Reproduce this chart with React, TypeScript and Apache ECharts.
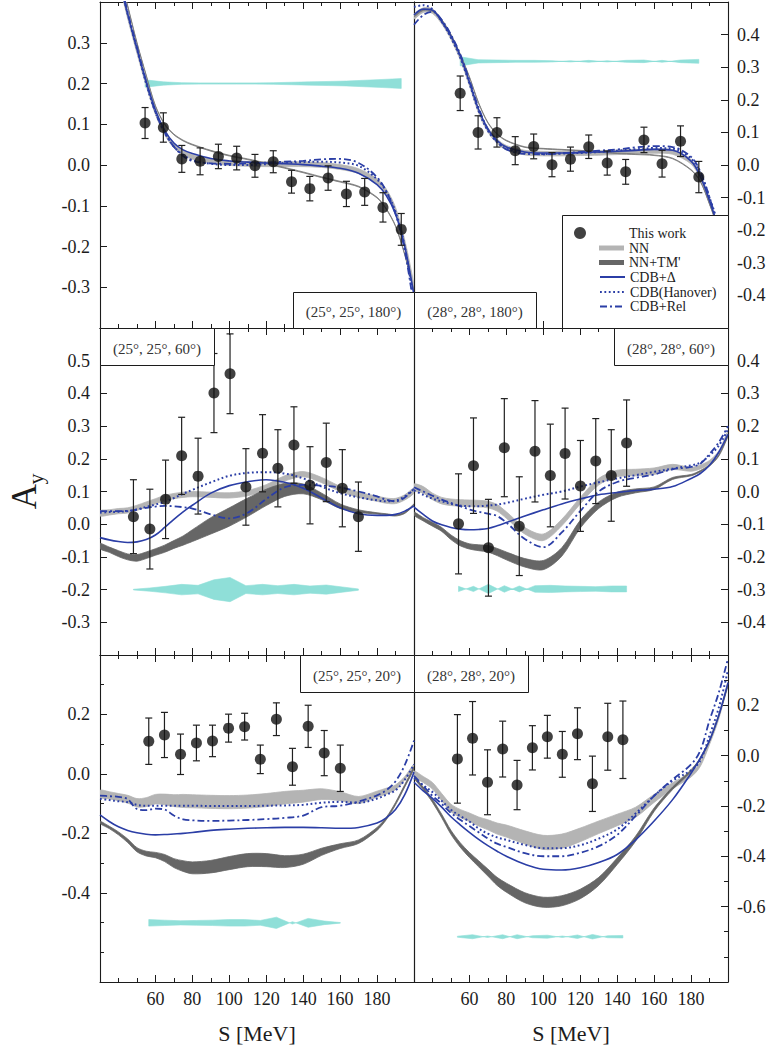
import React, { useEffect, useRef } from "react";
import * as echarts from "echarts";

// ---------------- shared grids ----------------
const S_GRID = [30, 35, 40, 45, 50, 55, 60, 65, 70, 75, 80, 90, 100, 110, 120, 130, 140, 150, 160, 170, 180, 185, 190, 195, 200];
const X_TICKS = [60, 80, 100, 120, 140, 160, 180];

// ---------------- panel 1: (25°, 25°, 180°) ----------------
const P1_S = [54.4, 64.3, 74.3, 84.2, 94.1, 104.0, 113.9, 123.8, 133.7, 143.6, 153.5, 163.4, 173.3, 183.2, 193.1];
const P1_AY = [0.103, 0.092, 0.015, 0.009, 0.021, 0.017, -0.002, 0.008, -0.041, -0.058, -0.032, -0.071, -0.066, -0.104, -0.158];
const P1_ERR = [0.038, 0.036, 0.033, 0.033, 0.030, 0.029, 0.028, 0.027, 0.028, 0.030, 0.030, 0.031, 0.033, 0.036, 0.039];
const P1_SYS_BASE = 0.2;
const P1_SYS_HW = [0.009, 0.004, 0.002, 0.0015, 0.0015, 0.0015, 0.0015, 0.002, 0.003, 0.004, 0.005, 0.006, 0.008, 0.010, 0.012];
const P1_NN = [0.68, 0.57, 0.46, 0.365, 0.28, 0.2, 0.13, 0.08, 0.048, 0.03, 0.02, 0.01, 0.005, 0.003, 0.002, 0.002, 0.002, 0.0, -0.005, -0.015, -0.04, -0.065, -0.11, -0.19, -0.3];
const P1_NN_HW = [0.006, 0.006, 0.006, 0.006, 0.006, 0.006, 0.006, 0.006, 0.006, 0.006, 0.006, 0.006, 0.006, 0.006, 0.006, 0.006, 0.006, 0.006, 0.006, 0.006, 0.006, 0.006, 0.006, 0.006, 0.006];
const P1_TM = [0.72, 0.6, 0.48, 0.39, 0.3, 0.22, 0.145, 0.1, 0.075, 0.06, 0.05, 0.035, 0.023, 0.014, 0.004, -0.007, -0.018, -0.03, -0.041, -0.053, -0.08, -0.108, -0.15, -0.22, -0.31];
const P1_TM_HW = [0.001, 0.001, 0.001, 0.001, 0.001, 0.001, 0.001, 0.001, 0.001, 0.001, 0.001, 0.001, 0.001, 0.001, 0.001, 0.001, 0.001, 0.001, 0.001, 0.001, 0.001, 0.001, 0.001, 0.001, 0.001];
const P1_CDB = [0.68, 0.57, 0.46, 0.37, 0.285, 0.205, 0.135, 0.085, 0.054, 0.037, 0.028, 0.016, 0.01, 0.007, 0.005, 0.003, 0.001, -0.003, -0.008, -0.02, -0.048, -0.075, -0.12, -0.2, -0.32];
const P1_HAN = [0.69, 0.58, 0.47, 0.37, 0.285, 0.2, 0.13, 0.08, 0.045, 0.025, 0.012, 0.003, 0.0, 0.0, 0.002, 0.005, 0.007, 0.008, 0.006, -0.002, -0.035, -0.065, -0.115, -0.2, -0.34];
const P1_REL = [0.69, 0.58, 0.47, 0.375, 0.29, 0.205, 0.13, 0.08, 0.045, 0.022, 0.01, 0.004, 0.003, 0.004, 0.006, 0.008, 0.01, 0.014, 0.015, 0.005, -0.03, -0.065, -0.12, -0.21, -0.35];

// ---------------- panel 2: (28°, 28°, 180°) ----------------
const P2_S = [55.0, 64.7, 74.9, 84.8, 94.8, 104.7, 114.7, 124.6, 134.6, 144.6, 154.5, 164.3, 174.3, 184.2];
const P2_AY = [0.220, 0.100, 0.100, 0.044, 0.057, 0.001, 0.018, 0.056, 0.006, -0.021, 0.077, 0.004, 0.073, -0.037];
const P2_ERR = [0.053, 0.051, 0.045, 0.043, 0.038, 0.037, 0.037, 0.036, 0.037, 0.038, 0.039, 0.041, 0.047, 0.048];
const P2_SYS_BASE = 0.318;
const P2_SYS_HW = [0.014, 0.005, 0.004, 0.003, 0.003, 0.002, -0.002, 0.003, -0.002, 0.003, 0.004, -0.003, 0.004, 0.006];
const P2_NN = [0.455, 0.475, 0.472, 0.44, 0.392, 0.33, 0.25, 0.165, 0.108, 0.073, 0.053, 0.038, 0.035, 0.035, 0.036, 0.037, 0.039, 0.041, 0.043, 0.04, 0.01, -0.035, -0.11, -0.21, -0.34];
const P2_NN_HW = [0.007, 0.007, 0.007, 0.007, 0.007, 0.007, 0.007, 0.007, 0.007, 0.007, 0.007, 0.007, 0.007, 0.007, 0.007, 0.007, 0.007, 0.007, 0.007, 0.007, 0.007, 0.007, 0.007, 0.007, 0.007];
const P2_TM = [0.455, 0.475, 0.472, 0.445, 0.4, 0.34, 0.27, 0.19, 0.13, 0.095, 0.075, 0.055, 0.05, 0.047, 0.044, 0.04, 0.036, 0.033, 0.03, 0.02, -0.015, -0.05, -0.12, -0.2, -0.33];
const P2_TM_HW = [0.001, 0.001, 0.001, 0.001, 0.001, 0.001, 0.001, 0.001, 0.001, 0.001, 0.001, 0.001, 0.001, 0.001, 0.001, 0.001, 0.001, 0.001, 0.001, 0.001, 0.001, 0.001, 0.001, 0.001, 0.001];
const P2_CDB = [0.46, 0.478, 0.475, 0.44, 0.395, 0.335, 0.255, 0.17, 0.11, 0.075, 0.055, 0.04, 0.037, 0.037, 0.038, 0.04, 0.042, 0.045, 0.048, 0.045, 0.012, -0.035, -0.11, -0.2, -0.33];
const P2_HAN = [0.485, 0.49, 0.478, 0.44, 0.39, 0.33, 0.25, 0.165, 0.105, 0.07, 0.05, 0.036, 0.034, 0.035, 0.037, 0.04, 0.044, 0.048, 0.052, 0.05, 0.02, -0.025, -0.1, -0.19, -0.33];
const P2_REL = [0.43, 0.46, 0.47, 0.445, 0.4, 0.34, 0.26, 0.175, 0.11, 0.072, 0.048, 0.034, 0.033, 0.036, 0.04, 0.044, 0.048, 0.054, 0.058, 0.055, 0.025, -0.02, -0.1, -0.2, -0.35];

// ---------------- panel 3: (25°, 25°, 60°) ----------------
const P3_S = [48.1, 57.0, 65.5, 74.2, 83.1, 91.7, 100.4, 109.0, 118.0, 126.3, 135.0, 143.7, 152.5, 161.2, 169.9];
const P3_AY = [0.023, -0.015, 0.076, 0.209, 0.147, 0.401, 0.460, 0.114, 0.217, 0.171, 0.242, 0.119, 0.189, 0.110, 0.023];
const P3_ERR = [0.113, 0.122, 0.120, 0.118, 0.116, 0.121, 0.122, 0.117, 0.118, 0.118, 0.117, 0.118, 0.120, 0.118, 0.106];
const P3_SYS_BASE = -0.2;
const P3_SYS_HW = [0.001, 0.005, 0.010, 0.016, 0.013, 0.030, 0.037, 0.012, 0.016, 0.012, 0.016, 0.011, 0.014, 0.008, 0.002];
const P3_NN = [0.033, 0.036, 0.04, 0.042, 0.05, 0.06, 0.07, 0.08, 0.086, 0.09, 0.092, 0.09, 0.088, 0.095, 0.113, 0.14, 0.153, 0.135, 0.108, 0.09, 0.078, 0.072, 0.071, 0.082, 0.103];
const P3_NN_HW = [0.008, 0.008, 0.008, 0.008, 0.008, 0.008, 0.008, 0.008, 0.008, 0.008, 0.008, 0.008, 0.008, 0.008, 0.008, 0.008, 0.008, 0.008, 0.008, 0.008, 0.008, 0.008, 0.008, 0.008, 0.008];
const P3_TM = [-0.067, -0.078, -0.09, -0.1, -0.103, -0.095, -0.085, -0.075, -0.062, -0.05, -0.035, -0.005, 0.022, 0.052, 0.082, 0.105, 0.108, 0.085, 0.055, 0.04, 0.033, 0.03, 0.027, 0.035, 0.06];
const P3_TM_HW = [0.008, 0.008, 0.009, 0.009, 0.01, 0.01, 0.01, 0.011, 0.012, 0.014, 0.018, 0.025, 0.028, 0.028, 0.025, 0.02, 0.015, 0.01, 0.007, 0.004, 0.002, 0.002, 0.002, 0.002, 0.002];
const P3_CDB = [-0.041, -0.048, -0.053, -0.056, -0.054, -0.047, -0.033, -0.01, 0.015, 0.038, 0.058, 0.095, 0.118, 0.13, 0.136, 0.128, 0.11, 0.08, 0.05, 0.032, 0.027, 0.027, 0.03, 0.04, 0.056];
const P3_HAN = [0.035, 0.037, 0.038, 0.04, 0.045, 0.053, 0.06, 0.068, 0.08, 0.093, 0.105, 0.128, 0.148, 0.157, 0.159, 0.155, 0.14, 0.115, 0.095, 0.082, 0.073, 0.07, 0.072, 0.085, 0.108];
const P3_REL = [0.04, 0.04, 0.04, 0.041, 0.045, 0.05, 0.054, 0.056, 0.055, 0.052, 0.048, 0.03, 0.018, 0.035, 0.077, 0.113, 0.12, 0.118, 0.112, 0.1, 0.085, 0.075, 0.07, 0.082, 0.108];

// ---------------- panel 4: (28°, 28°, 60°) ----------------
const P4_S = [54.1, 62.2, 70.3, 78.9, 87.0, 95.5, 103.8, 111.8, 120.1, 128.4, 136.8, 145.1];
const P4_AY = [-0.099, 0.079, -0.172, 0.134, -0.106, 0.123, 0.049, 0.116, 0.017, 0.093, 0.049, 0.148];
const P4_ERR = [0.153, 0.146, 0.148, 0.150, 0.151, 0.155, 0.157, 0.139, 0.139, 0.130, 0.140, 0.132];
const P4_SYS_BASE = -0.298;
const P4_SYS_HW = [0.008, -0.008, 0.014, -0.010, 0.009, -0.010, -0.011, -0.009, -0.008, -0.007, -0.009, -0.009];
const P4_NN = [0.013, 0.005, -0.015, -0.028, -0.033, -0.035, -0.036, -0.037, -0.04, -0.05, -0.072, -0.12, -0.14, -0.095, -0.028, 0.03, 0.055, 0.058, 0.062, 0.075, 0.068, 0.075, 0.09, 0.12, 0.182];
const P4_NN_HW = [0.01, 0.01, 0.01, 0.01, 0.01, 0.01, 0.01, 0.01, 0.01, 0.01, 0.01, 0.01, 0.01, 0.01, 0.01, 0.01, 0.01, 0.01, 0.01, 0.008, 0.006, 0.006, 0.005, 0.004, 0.004];
const P4_TM = [-0.068, -0.085, -0.1, -0.116, -0.14, -0.158, -0.168, -0.172, -0.175, -0.185, -0.197, -0.218, -0.225, -0.185, -0.1, -0.042, -0.01, 0.002, 0.01, 0.04, 0.05, 0.062, 0.08, 0.11, 0.17];
const P4_TM_HW = [0.005, 0.005, 0.006, 0.006, 0.007, 0.008, 0.008, 0.009, 0.01, 0.011, 0.012, 0.013, 0.014, 0.013, 0.012, 0.01, 0.008, 0.006, 0.004, 0.003, 0.002, 0.002, 0.002, 0.002, 0.002];
const P4_CDB = [-0.048, -0.07, -0.09, -0.102, -0.11, -0.115, -0.117, -0.116, -0.113, -0.105, -0.095, -0.075, -0.056, -0.038, -0.023, -0.01, -0.003, 0.003, 0.007, 0.015, 0.04, 0.055, 0.08, 0.12, 0.175];
const P4_HAN = [0.003, -0.01, -0.022, -0.03, -0.038, -0.043, -0.045, -0.045, -0.043, -0.04, -0.035, -0.022, -0.01, 0.0, 0.015, 0.028, 0.04, 0.05, 0.06, 0.07, 0.08, 0.088, 0.11, 0.14, 0.19];
const P4_REL = [0.013, 0.0, -0.013, -0.025, -0.035, -0.045, -0.055, -0.062, -0.068, -0.075, -0.095, -0.145, -0.17, -0.125, -0.06, 0.0, 0.029, 0.042, 0.052, 0.068, 0.075, 0.085, 0.115, 0.15, 0.2];

// ---------------- panel 5: (25°, 25°, 20°) ----------------
const P5_S = [56.4, 64.9, 73.6, 82.2, 90.9, 99.6, 108.3, 116.8, 125.5, 134.2, 142.7, 151.4, 160.1];
const P5_AY = [0.110, 0.131, 0.066, 0.104, 0.111, 0.154, 0.159, 0.049, 0.184, 0.024, 0.160, 0.070, 0.019];
const P5_ERR = [0.078, 0.076, 0.068, 0.060, 0.053, 0.047, 0.045, 0.048, 0.055, 0.062, 0.071, 0.076, 0.078];
const P5_SYS_BASE = -0.501;
const P5_SYS_HW = [0.011, 0.009, 0.007, 0.008, 0.009, 0.011, 0.011, 0.008, 0.019, -0.004, 0.015, 0.006, 0.001];
const P5_NN = [-0.067, -0.072, -0.078, -0.085, -0.097, -0.095, -0.085, -0.086, -0.09, -0.091, -0.092, -0.094, -0.095, -0.093, -0.088, -0.08, -0.075, -0.068, -0.075, -0.088, -0.068, -0.058, -0.045, -0.015, 0.03];
const P5_NN_HW = [0.012, 0.012, 0.012, 0.013, 0.014, 0.015, 0.016, 0.018, 0.02, 0.022, 0.022, 0.022, 0.022, 0.022, 0.022, 0.021, 0.02, 0.018, 0.015, 0.012, 0.01, 0.01, 0.008, 0.006, 0.004];
const P5_TM = [-0.163, -0.18, -0.2, -0.225, -0.255, -0.268, -0.273, -0.283, -0.3, -0.31, -0.316, -0.312, -0.3, -0.29, -0.29, -0.295, -0.287, -0.262, -0.243, -0.228, -0.185, -0.15, -0.1, -0.04, 0.02];
const P5_TM_HW = [0.004, 0.004, 0.005, 0.006, 0.007, 0.008, 0.009, 0.012, 0.015, 0.018, 0.02, 0.021, 0.022, 0.022, 0.022, 0.02, 0.017, 0.012, 0.008, 0.006, 0.005, 0.004, 0.004, 0.004, 0.004];
const P5_CDB = [-0.138, -0.16, -0.178, -0.19, -0.198, -0.203, -0.205, -0.204, -0.202, -0.2, -0.197, -0.19, -0.186, -0.183, -0.181, -0.18, -0.18, -0.181, -0.183, -0.18, -0.165, -0.148, -0.12, -0.07, 0.006];
const P5_HAN = [-0.084, -0.088, -0.092, -0.095, -0.104, -0.107, -0.107, -0.107, -0.107, -0.107, -0.107, -0.108, -0.108, -0.108, -0.107, -0.106, -0.104, -0.097, -0.094, -0.097, -0.083, -0.07, -0.055, -0.02, 0.032];
const P5_REL = [-0.073, -0.075, -0.077, -0.085, -0.118, -0.122, -0.117, -0.12, -0.14, -0.153, -0.156, -0.158, -0.157, -0.155, -0.152, -0.148, -0.14, -0.112, -0.107, -0.093, -0.072, -0.055, -0.025, 0.03, 0.112];

// ---------------- panel 6: (28°, 28°, 20°) ----------------
const P6_S = [53.5, 61.7, 69.8, 78.0, 85.8, 94.1, 102.2, 110.3, 118.5, 126.6, 134.9, 143.1];
const P6_AY = [-0.013, 0.069, -0.106, 0.026, -0.117, 0.031, 0.075, 0.005, 0.087, -0.112, 0.075, 0.063];
const P6_ERR = [0.176, 0.146, 0.129, 0.111, 0.098, 0.088, 0.085, 0.091, 0.103, 0.110, 0.133, 0.154];
const P6_SYS_BASE = -0.72;
const P6_SYS_HW = [0.002, 0.008, -0.003, 0.008, -0.008, 0.004, 0.006, -0.003, 0.007, -0.009, 0.004, 0.005];
const P6_NN = [-0.073, -0.095, -0.12, -0.165, -0.208, -0.23, -0.245, -0.262, -0.275, -0.29, -0.3, -0.325, -0.345, -0.34, -0.315, -0.285, -0.256, -0.225, -0.17, -0.12, -0.075, -0.035, 0.05, 0.15, 0.29];
const P6_NN_HW = [0.012, 0.012, 0.013, 0.014, 0.015, 0.016, 0.017, 0.018, 0.02, 0.022, 0.024, 0.026, 0.028, 0.028, 0.027, 0.025, 0.023, 0.02, 0.016, 0.012, 0.01, 0.008, 0.006, 0.005, 0.004];
const P6_TM = [-0.086, -0.13, -0.18, -0.24, -0.305, -0.355, -0.395, -0.43, -0.465, -0.5, -0.525, -0.565, -0.583, -0.577, -0.55, -0.5, -0.42, -0.33, -0.215, -0.13, -0.06, -0.013, 0.06, 0.16, 0.28];
const P6_TM_HW = [0.004, 0.005, 0.006, 0.007, 0.008, 0.009, 0.01, 0.012, 0.014, 0.016, 0.018, 0.02, 0.02, 0.02, 0.019, 0.016, 0.013, 0.01, 0.007, 0.005, 0.004, 0.004, 0.004, 0.004, 0.004];
const P6_CDB = [-0.106, -0.14, -0.17, -0.205, -0.243, -0.275, -0.305, -0.333, -0.358, -0.38, -0.4, -0.432, -0.452, -0.455, -0.446, -0.425, -0.393, -0.335, -0.26, -0.175, -0.07, -0.01, 0.06, 0.16, 0.29];
const P6_HAN = [-0.09, -0.118, -0.145, -0.18, -0.215, -0.24, -0.262, -0.29, -0.31, -0.325, -0.335, -0.355, -0.368, -0.368, -0.356, -0.33, -0.293, -0.23, -0.16, -0.1, -0.058, -0.02, 0.08, 0.19, 0.34];
const P6_REL = [-0.08, -0.12, -0.16, -0.192, -0.228, -0.255, -0.28, -0.305, -0.33, -0.35, -0.363, -0.388, -0.4, -0.4, -0.386, -0.36, -0.315, -0.24, -0.16, -0.095, -0.035, 0.02, 0.14, 0.25, 0.386];

// ---------------- tick labels ----------------
const Y1_LABELS = [-0.3, -0.2, -0.1, 0.0, 0.1, 0.2, 0.3];
const Y2_LABELS = [-0.4, -0.3, -0.2, -0.1, 0.0, 0.1, 0.2, 0.3, 0.4];
const Y3_LABELS = [-0.3, -0.2, -0.1, 0.0, 0.1, 0.2, 0.3, 0.4, 0.5];
const Y4_LABELS = [-0.4, -0.3, -0.2, -0.1, 0.0, 0.1, 0.2, 0.3, 0.4];
const Y5_LABELS = [-0.4, -0.2, 0.0, 0.2];
const Y6_LABELS = [-0.6, -0.4, -0.2, 0.0, 0.2];

const PANEL_LABELS = ["(25°, 25°, 180°)", "(28°, 28°, 180°)", "(25°, 25°, 60°)", "(28°, 28°, 60°)", "(25°, 25°, 20°)", "(28°, 28°, 20°)"];

// ---------------- style / layout ----------------
const BLUE = "#2b3ea6";
const LIGHT = "#b4b4b4";
const DARK = "#666666";
const CYAN = "#8fdfd8";
const INK = "#1c1c1c";
const SERIF = "'Liberation Serif', 'DejaVu Serif', serif";
const PW = 314;

const PANELS = [
  { left: 100, top: 2, height: 326, yMin: -0.4, yMax: 0.4, yLabels: Y1_LABELS, side: "left", bottom: false, minorY: false, tmColor: "#7a7a7a",
    box: [293, 292, 121, 36], S: P1_S, AY: P1_AY, ERR: P1_ERR, SB: P1_SYS_BASE, SH: P1_SYS_HW, NN: P1_NN, NNH: P1_NN_HW, TM: P1_TM, TMH: P1_TM_HW, CDB: P1_CDB, HAN: P1_HAN, REL: P1_REL },
  { left: 414, top: 2, height: 326, yMin: -0.5, yMax: 0.5, yLabels: Y2_LABELS, side: "right", bottom: false, minorY: false, tmColor: "#7a7a7a",
    box: [414, 292, 122, 36], S: P2_S, AY: P2_AY, ERR: P2_ERR, SB: P2_SYS_BASE, SH: P2_SYS_HW, NN: P2_NN, NNH: P2_NN_HW, TM: P2_TM, TMH: P2_TM_HW, CDB: P2_CDB, HAN: P2_HAN, REL: P2_REL },
  { left: 100, top: 328, height: 327, yMin: -0.4, yMax: 0.6, yLabels: Y3_LABELS, side: "left", bottom: false, minorY: false, tmColor: DARK,
    box: [100, 328, 114, 37], S: P3_S, AY: P3_AY, ERR: P3_ERR, SB: P3_SYS_BASE, SH: P3_SYS_HW, NN: P3_NN, NNH: P3_NN_HW, TM: P3_TM, TMH: P3_TM_HW, CDB: P3_CDB, HAN: P3_HAN, REL: P3_REL },
  { left: 414, top: 328, height: 327, yMin: -0.5, yMax: 0.5, yLabels: Y4_LABELS, side: "right", bottom: false, minorY: false, tmColor: DARK,
    box: [614, 328, 114, 37], S: P4_S, AY: P4_AY, ERR: P4_ERR, SB: P4_SYS_BASE, SH: P4_SYS_HW, NN: P4_NN, NNH: P4_NN_HW, TM: P4_TM, TMH: P4_TM_HW, CDB: P4_CDB, HAN: P4_HAN, REL: P4_REL },
  { left: 100, top: 655, height: 327, yMin: -0.7, yMax: 0.4, yLabels: Y5_LABELS, side: "left", bottom: true, minorY: true, tmColor: DARK,
    box: [300, 655, 114, 37], S: P5_S, AY: P5_AY, ERR: P5_ERR, SB: P5_SYS_BASE, SH: P5_SYS_HW, NN: P5_NN, NNH: P5_NN_HW, TM: P5_TM, TMH: P5_TM_HW, CDB: P5_CDB, HAN: P5_HAN, REL: P5_REL },
  { left: 414, top: 655, height: 327, yMin: -0.9, yMax: 0.4, yLabels: Y6_LABELS, side: "right", bottom: true, minorY: true, tmColor: DARK,
    box: [414, 655, 114, 37], S: P6_S, AY: P6_AY, ERR: P6_ERR, SB: P6_SYS_BASE, SH: P6_SYS_HW, NN: P6_NN, NNH: P6_NN_HW, TM: P6_TM, TMH: P6_TM_HW, CDB: P6_CDB, HAN: P6_HAN, REL: P6_REL },
];

const inList = (list: number[], v: number) => list.some((t) => Math.abs(t - v) < 1e-6);
const fmt1 = (v: number) => (Math.abs(v) < 1e-9 ? "0.0" : v.toFixed(1));

function bandSeries(name: string, xs: number[], lo: number[], hi: number[], color: string, ax: number, smooth: number, z: number, stroke: number, legendColor?: string) {
  return {
    type: "custom",
    name,
    xAxisIndex: ax,
    yAxisIndex: ax,
    clip: true,
    z,
    silent: true,
    itemStyle: { color: legendColor || color },
    encode: { x: 0, y: [1, 2] },
    data: xs.map((x, i) => [x, lo[i], hi[i]]),
    renderItem: (params: any, api: any) => {
      if (params.dataIndexInside !== 0) return null;
      const n = params.dataInsideLength;
      const top: number[][] = [];
      const bot: number[][] = [];
      for (let i = 0; i < n; i++) {
        const x = api.value(0, i);
        top.push(api.coord([x, api.value(2, i)]));
        bot.push(api.coord([x, api.value(1, i)]));
      }
      return {
        type: "polygon",
        shape: { points: top.concat(bot.reverse()), smooth },
        style: { fill: color, stroke: stroke > 0 ? color : "none", lineWidth: stroke },
      };
    },
  };
}

function lineSeries(name: string, vals: number[], ax: number, lineStyle: any) {
  return {
    type: "line",
    name,
    xAxisIndex: ax,
    yAxisIndex: ax,
    data: S_GRID.map((s, i) => [s, vals[i]]),
    symbol: "none",
    smooth: 0.35,
    clip: true,
    z: 4,
    silent: true,
    itemStyle: { color: BLUE },
    lineStyle: { color: BLUE, ...lineStyle },
  };
}

function buildOption() {
  const grid: any[] = [];
  const xAxis: any[] = [];
  const yAxis: any[] = [];
  const series: any[] = [];
  const axisLine = { show: true, onZero: false, lineStyle: { color: INK, width: 1.1 } };
  const tickStyle = { color: INK, width: 1 };

  PANELS.forEach((p) => {
    const g = grid.length;
    grid.push({ left: p.left, top: p.top, width: PW, height: p.height });
    grid.push({ left: p.left, top: p.top, width: PW, height: p.height });
    const ax = xAxis.length;
    const other = p.side === "left" ? "right" : "left";

    // main x axes (major ticks)
    xAxis.push({
      type: "value", gridIndex: g, position: "bottom", min: 30, max: 200, interval: 10,
      axisLine, splitLine: { show: false },
      axisTick: { show: true, inside: true, length: 7, customValues: X_TICKS, lineStyle: tickStyle },
      axisLabel: {
        show: p.bottom, customValues: X_TICKS, margin: 8, color: INK, fontFamily: SERIF, fontSize: 18,
        formatter: (v: number) => (inList(X_TICKS, v) ? String(v) : ""),
      },
      name: p.bottom ? "S [MeV]" : "", nameLocation: "middle", nameGap: 40,
      nameTextStyle: { color: INK, fontFamily: SERIF, fontSize: 22 },
    });
    xAxis.push({
      type: "value", gridIndex: g, position: "top", min: 30, max: 200, interval: 10,
      axisLine, splitLine: { show: false },
      axisTick: { show: true, inside: true, length: 7, customValues: X_TICKS, lineStyle: tickStyle },
      axisLabel: { show: false },
    });
    // overlay x axes (minor ticks)
    xAxis.push({
      type: "value", gridIndex: g + 1, position: "bottom", min: 30, max: 200, interval: 10,
      axisLine: { show: false, onZero: false }, splitLine: { show: false },
      axisTick: { show: true, inside: true, length: 4, lineStyle: tickStyle }, axisLabel: { show: false },
    });
    xAxis.push({
      type: "value", gridIndex: g + 1, position: "top", min: 30, max: 200, interval: 10,
      axisLine: { show: false, onZero: false }, splitLine: { show: false },
      axisTick: { show: true, inside: true, length: 4, lineStyle: tickStyle }, axisLabel: { show: false },
    });

    // y axes
    yAxis.push({
      type: "value", gridIndex: g, position: p.side, min: p.yMin, max: p.yMax, interval: 0.1,
      axisLine, splitLine: { show: false },
      axisTick: { show: true, inside: true, length: 7, customValues: p.yLabels, lineStyle: tickStyle },
      axisLabel: {
        show: true, customValues: p.yLabels, margin: p.side === "left" ? 10 : 9, color: INK, fontFamily: SERIF, fontSize: 18,
        formatter: (v: number) => (inList(p.yLabels, v) ? fmt1(v) : ""),
      },
    });
    yAxis.push({
      type: "value", gridIndex: g, position: other, min: p.yMin, max: p.yMax, interval: 0.1,
      axisLine, splitLine: { show: false }, axisTick: { show: false }, axisLabel: { show: false },
    });
    yAxis.push({
      type: "value", gridIndex: g + 1, position: p.side, min: p.yMin, max: p.yMax, interval: 0.1,
      axisLine: { show: false, onZero: false }, splitLine: { show: false },
      axisTick: { show: p.minorY, inside: true, length: 4, lineStyle: tickStyle }, axisLabel: { show: false },
    });
    yAxis.push({
      type: "value", gridIndex: g + 1, position: other, min: p.yMin, max: p.yMax, interval: 0.1,
      axisLine: { show: false, onZero: false }, splitLine: { show: false },
      axisTick: { show: false }, axisLabel: { show: false },
    });

    // systematic band (cyan)
    series.push(bandSeries("syst", p.S,
      p.S.map((_, i) => p.SB - p.SH[i]), p.S.map((_, i) => p.SB + p.SH[i]), CYAN, ax, 0, 1, 0.6));
    // NN (light band) and NN+TM' (dark band)
    series.push(bandSeries("NN", S_GRID,
      S_GRID.map((_, i) => p.NN[i] - p.NNH[i]), S_GRID.map((_, i) => p.NN[i] + p.NNH[i]), LIGHT, ax, 0.3, 2, 0.8));
    series.push(bandSeries("NN+TM'", S_GRID,
      S_GRID.map((_, i) => p.TM[i] - p.TMH[i]), S_GRID.map((_, i) => p.TM[i] + p.TMH[i]), p.tmColor, ax, 0.3, 3, 0.8, DARK));
    // CD-Bonn curves
    series.push(lineSeries("CDB+Δ", p.CDB, ax, { width: 1.6, type: "solid" }));
    series.push(lineSeries("CDB(Hanover)", p.HAN, ax, { width: 2, type: [1.8, 2.6], cap: "butt" }));
    series.push(lineSeries("CDB+Rel", p.REL, ax, { width: 1.8, type: [7, 3, 2, 3] }));
    // error bars
    series.push({
      type: "custom", name: "err", xAxisIndex: ax, yAxisIndex: ax, z: 5, silent: true,
      encode: { x: 0, y: 1 },
      data: p.S.map((s, i) => [s, p.AY[i], p.ERR[i]]),
      renderItem: (params: any, api: any) => {
        const x = api.value(0), y = api.value(1), e = api.value(2);
        const t = api.coord([x, y + e]);
        const b = api.coord([x, y - e]);
        const st = { stroke: "#202020", lineWidth: 1.2 };
        return {
          type: "group",
          children: [
            { type: "line", shape: { x1: t[0], y1: t[1], x2: b[0], y2: b[1] }, style: st },
            { type: "line", shape: { x1: t[0] - 3.5, y1: t[1], x2: t[0] + 3.5, y2: t[1] }, style: st },
            { type: "line", shape: { x1: b[0] - 3.5, y1: b[1], x2: b[0] + 3.5, y2: b[1] }, style: st },
          ],
        };
      },
    });
    // measured points
    series.push({
      type: "scatter", name: "This work", xAxisIndex: ax, yAxisIndex: ax, z: 6, silent: true,
      symbol: "circle", symbolSize: 11, itemStyle: { color: "#111111" },
      data: p.S.map((s, i) => [s, p.AY[i]]),
    });
  });

  // graphic: panel labels, legend frame, y-axis title
  const elements: any[] = [];
  PANELS.forEach((p, k) => {
    const [bx, by, bw, bh] = p.box;
    elements.push({ type: "rect", z: 100, shape: { x: bx + 0.5, y: by + 0.5, width: bw, height: bh },
      style: { fill: "#ffffff", stroke: INK, lineWidth: 1 } });
    elements.push({ type: "text", z: 101, x: bx + bw / 2, y: by + bh / 2 + 2,
      style: { text: PANEL_LABELS[k], fill: "#333333", font: `15px ${SERIF}`, align: "center", verticalAlign: "middle" } });
  });
  elements.push({ type: "rect", z: 100, shape: { x: 562.5, y: 215.5, width: 166, height: 113 },
    style: { fill: "#ffffff", stroke: INK, lineWidth: 1 } });
  elements.push({ type: "text", z: 101, x: 24.5, y: 496.5, rotation: Math.PI / 2,
    style: { text: "A", fill: INK, font: `35px ${SERIF}`, align: "center", verticalAlign: "middle" } });
  elements.push({ type: "text", z: 101, x: 35, y: 479, rotation: Math.PI / 2,
    style: { text: "y", fill: INK, font: `22px ${SERIF}`, align: "center", verticalAlign: "middle" } });

  const legendText = { color: "#222222", fontFamily: SERIF, fontSize: 14, lineHeight: 14 };
  const hideSymbol = { opacity: 0 };
  const legend = [
    { data: ["This work"], left: 574, top: 226, padding: 0, itemWidth: 12, itemHeight: 12, icon: "circle", z: 110,
      selectedMode: false, textStyle: { ...legendText, padding: [0, 0, 0, 38] } },
    { data: ["NN"], left: 599, top: 241, padding: 0, itemWidth: 25, itemHeight: 5, icon: "rect", z: 110, selectedMode: false, textStyle: legendText },
    { data: ["NN+TM'"], left: 599, top: 255.5, padding: 0, itemWidth: 25, itemHeight: 5, icon: "rect", z: 110, selectedMode: false, textStyle: legendText },
    { data: ["CDB+Δ"], left: 599, top: 270, padding: 0, itemWidth: 25, itemHeight: 14, z: 110, selectedMode: false, itemStyle: hideSymbol, textStyle: legendText },
    { data: ["CDB(Hanover)"], left: 599, top: 285, padding: 0, itemWidth: 25, itemHeight: 14, z: 110, selectedMode: false, itemStyle: hideSymbol, textStyle: legendText },
    { data: ["CDB+Rel"], left: 599, top: 299.5, padding: 0, itemWidth: 25, itemHeight: 14, z: 110, selectedMode: false, itemStyle: hideSymbol, textStyle: legendText },
  ];

  return {
    animation: false,
    backgroundColor: "#ffffff",
    grid,
    xAxis,
    yAxis,
    series,
    legend,
    graphic: { elements },
  };
}

export default function App() {
  const ref = useRef<HTMLDivElement>(null);
  useEffect(() => {
    if (!ref.current) return;
    const chart = echarts.init(ref.current, null, { renderer: "svg" });
    chart.setOption(buildOption() as any);
    return () => chart.dispose();
  }, []);
  return (
    <div
      ref={ref}
      style={{ position: "absolute", left: 0, top: 0, width: 772, height: 1051, background: "#ffffff" }}
    />
  );
}
